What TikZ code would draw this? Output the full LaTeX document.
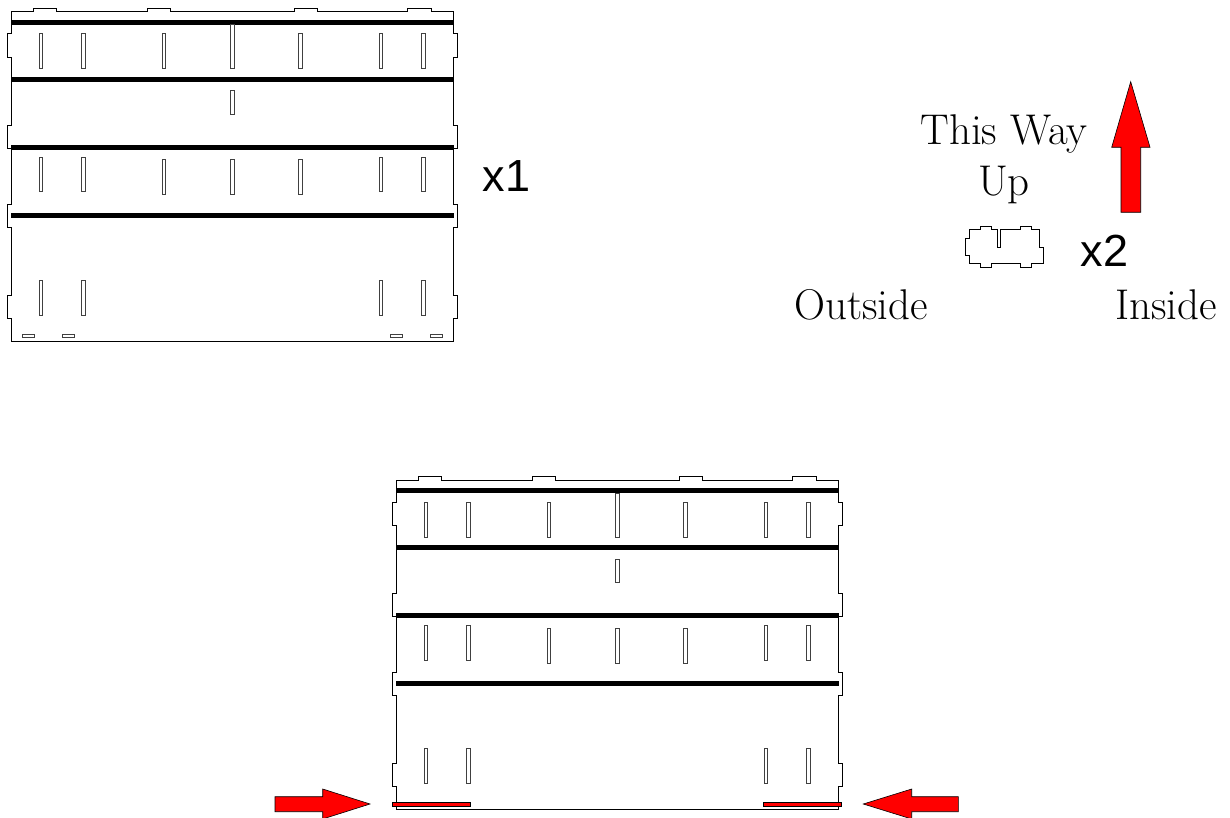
\documentclass[tikz,border=0pt]{standalone}
\usepackage{fontspec}
\newfontfamily\labelsans{Liberation Sans}
\tikzset{
  cut/.style={draw=black,line width=1pt,fill=white,line join=miter},
  slot/.style={draw=black!75,line width=1pt,fill=white},
  bar/.style={draw=none,fill=black},
  redshape/.style={draw=black,line width=0.6pt,fill=red},
  redstrip/.style={draw=black,line width=0.4pt,fill=red},
  serifText/.style={inner sep=0pt,font=\fontsize{43}{50}\selectfont,align=center,anchor=base},
  sansText/.style={inner sep=0pt,font=\labelsans\fontsize{45}{50}\selectfont,anchor=base}
}
\newcommand{\panelsheet}[2]{%
\begin{scope}[shift={(#1,#2)}]
  \draw[cut] (11,12) -- (33.5,12) -- (33.5,8.5) -- (56.5,8.5) -- (56.5,12)
    -- (147,12) -- (147,8.5) -- (170,8.5) -- (170,12)
    -- (294.3,12) -- (294.3,8.5) -- (317.5,8.5) -- (317.5,12)
    -- (407.7,12) -- (407.7,8.5) -- (431,8.5) -- (431,12) -- (453.3,12)
    -- (453.3,34) -- (457,34) -- (457,57.5) -- (453.3,57.5)
    -- (453.3,125.5) -- (457,125.5) -- (457,148.5) -- (453.3,148.5)
    -- (453.3,204.5) -- (457,204.5) -- (457,227.5) -- (453.3,227.5)
    -- (453.3,295.7) -- (457,295.7) -- (457,318.5) -- (453.3,318.5)
    -- (453.3,341) -- (11,341)
    -- (11,318.5) -- (7.5,318.5) -- (7.5,295.7) -- (11,295.7)
    -- (11,227.5) -- (7.5,227.5) -- (7.5,204.5) -- (11,204.5)
    -- (11,148.5) -- (7.5,148.5) -- (7.5,125.5) -- (11,125.5)
    -- (11,57.5) -- (7.5,57.5) -- (7.5,34) -- (11,34) -- cycle;
  \foreach \yy in {22.7,79.3,147.3,215.7}
    \fill[bar] (11,\yy-2.5) rectangle (454,\yy+2.5);
  \foreach \xx in {41,83.5,164,300.3,381,423.3}
    \draw[slot] (\xx-1.9,34) rectangle (\xx+1.9,69);
  \draw[slot] (230.4,25) rectangle (234.2,69);
  \draw[slot] (230.4,91) rectangle (234.2,114.5);
  \foreach \xx in {41,83.5,381,423.3}
    \draw[slot] (\xx-1.9,157.5) rectangle (\xx+1.9,192);
  \foreach \xx in {164,232.3,300.3}
    \draw[slot] (\xx-1.9,160) rectangle (\xx+1.9,195);
  \foreach \xx in {41,83.5,381,423.3}
    \draw[slot] (\xx-1.9,280.5) rectangle (\xx+1.9,315);
  \foreach \xx in {22.5,62.5,390.3,430.3}
    \draw[slot] (\xx,334) rectangle (\xx+11.7,337.5);
\end{scope}}
\begin{document}
\begin{tikzpicture}[x=1pt,y=-1pt]
  \useasboundingbox (0,0) rectangle (1230,818);
  \fill[white] (0,0) rectangle (1230,818);
  \panelsheet{0}{0}
  \panelsheet{385}{468}
  % small end piece
  \begin{scope}[shift={(950,210)},x=0.3333pt,y=-0.3333pt]
    \draw[cut] (57,60) -- (90,60) -- (90,50) -- (125,50) -- (125,60) -- (141,60)
      -- (141,112) -- (152,112) -- (152,60) -- (211,60) -- (211,50) -- (245,50)
      -- (245,60) -- (269,60) -- (269,112) -- (279,112) -- (279,162) -- (245,162)
      -- (245,173) -- (211,173) -- (211,162) -- (125,162) -- (125,173) -- (90,173)
      -- (90,162) -- (57,162) -- (57,137) -- (47,137) -- (47,85) -- (57,85) -- cycle;
  \end{scope}
  % red arrows and strips
  \draw[redshape] (1130.7,81.7) -- (1150,147.3) -- (1140.7,147.3) -- (1140.7,212.3)
    -- (1121,212.3) -- (1121,147.3) -- (1111.7,147.3) -- cycle;
  \draw[redshape] (275,796.7) -- (322.7,796.7) -- (322.7,789) -- (370,804)
    -- (322.7,819) -- (322.7,811.7) -- (275,811.7) -- cycle;
  \draw[redshape] (958.3,796.7) -- (911.7,796.7) -- (911.7,789) -- (863.3,804)
    -- (911.7,819) -- (911.7,811.7) -- (958.3,811.7) -- cycle;
  \draw[redstrip] (392.3,802.2) rectangle (470.3,806.2);
  \draw[redstrip] (763.5,802.2) rectangle (841.5,806.2);
  % labels
  \node[sansText] (xone) at (506.5,192) {x1};
  \node[sansText] (xtwo) at (1104.5,266) {x2};
  \node[serifText] (way) at (1004,145) {This Way};
  \node[serifText] (up) at (1004,195.5) {Up};
  \node[serifText] (outside) at (861,319) {Outside};
  \node[serifText] (inside) at (1166,319) {Inside};
\end{tikzpicture}
\end{document}
